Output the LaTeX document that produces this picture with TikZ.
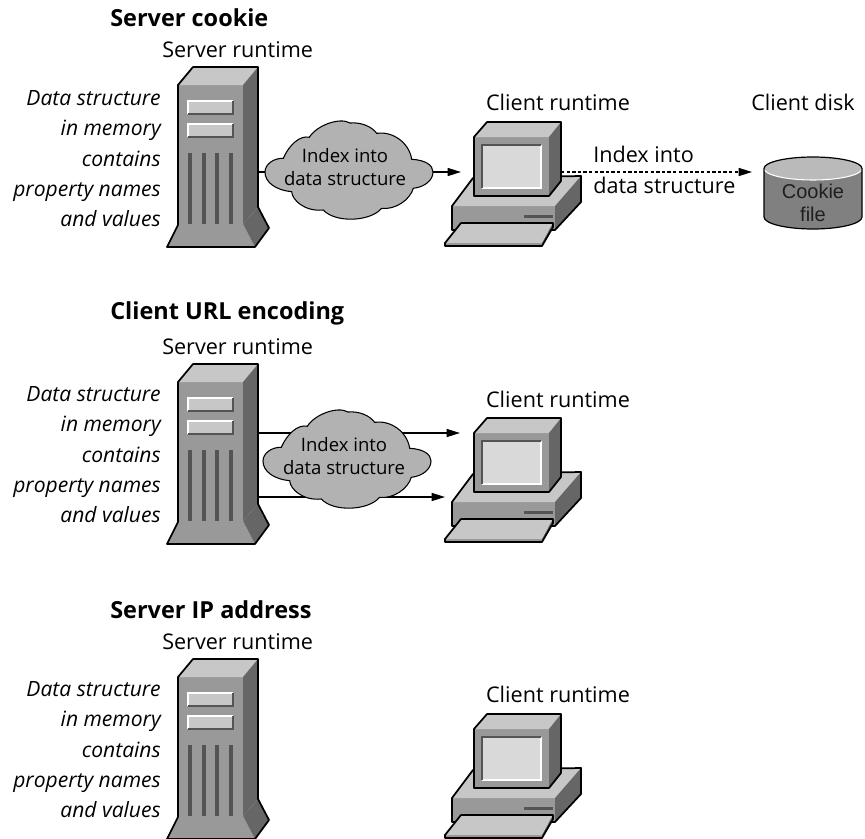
\documentclass[tikz,border=0pt]{standalone}
\usepackage{fontspec}
\setmainfont{Open Sans}
\newfontfamily\arialf{Liberation Sans}
\usetikzlibrary{arrows.meta}
\tikzset{
 ol/.style={draw=black,line width=1.3pt,line join=round},
 lbl/.style={inner sep=0pt,font=\fontsize{16.2pt}{19pt}\selectfont},
 ttl/.style={inner sep=0pt,font=\fontsize{17.6pt}{21pt}\selectfont\bfseries},
 note/.style={inner sep=0pt,align=right,anchor=north east,font=\fontsize{15.8pt}{22.8pt}\selectfont\itshape},
 cloudtxt/.style={inner sep=0pt,align=center,font=\fontsize{13.9pt}{17.3pt}\selectfont},
 link/.style={draw=black,line width=1.1pt,-{Triangle[length=10pt,width=6pt]}},
 plain/.style={draw=black,line width=1.1pt},
 dlink/.style={draw=black,line width=1.1pt,dash pattern=on 2.6pt off 1.6pt,-{Triangle[length=10pt,width=6pt]}},
}
\definecolor{gtop}{gray}{.78}
\definecolor{gfront}{gray}{.6}
\definecolor{gside}{gray}{.4}
\definecolor{gslot}{gray}{.33}
\definecolor{gscreen}{gray}{.85}
\definecolor{gcloud}{gray}{.7}
\definecolor{gdisk}{gray}{.5}
\definecolor{gdisktop}{gray}{.73}
\definecolor{gtext}{gray}{.12}
\newcommand{\serverdraw}[2]{\begin{scope}[shift={(#1,#2)}]
 \fill[gfront] (178,85) -- (243,85) -- (243,224) -- (255,247) -- (167,247) -- (178,225) -- cycle;
 \fill[gtop] (178,85) -- (193,67) -- (258,67) -- (243,85) -- cycle;
 \fill[gside] (243,85) -- (258,67) -- (258,207) -- (243,224) -- cycle;
 \fill[gside] (243,224) -- (258,207) -- (269,228) -- (255,247) -- cycle;
 \foreach \y in {101,124}{
  \fill[gtop] (188,\y) rectangle (233,\y+13);
  \draw[white,line width=.8pt] (188,\y+13) -- (188,\y) -- (233,\y);
  \draw[gslot,line width=.8pt] (188,\y+13) -- (233,\y+13) -- (233,\y);}
 \foreach \x in {188,202,215,229}{\fill[gslot] (\x,153) rectangle (\x+4,224);}
 \draw[ol] (178,85) -- (193,67) -- (258,67) -- (258,207) -- (269,228) -- (255,247) -- (167,247) -- (178,225) -- cycle;
\end{scope}}
\newcommand{\clientdraw}[2]{\begin{scope}[shift={(#1,#2)}]
 % base
 \fill[gfront] (452,206) -- (555,206) -- (555,230) -- (452,230) -- cycle;
 \fill[gtop] (473,178) -- (581,176) -- (555,206) -- (452,206) -- cycle;
 \fill[gside] (581,176) -- (581,202) -- (555,230) -- (555,206) -- cycle;
 \draw[ol] (473,178) -- (581,176) -- (581,202) -- (555,230) -- (452,230) -- (452,206) -- cycle;
 \fill[gslot] (524,215) rectangle (553,218);
 % keyboard
 \fill[gtop] (461,223) -- (553,223) -- (542,243) -- (445,243) -- cycle;
 \fill[gfront] (445,243) -- (542,243) -- (542,246) -- (445,246) -- cycle;
 \fill[gside] (553,223) -- (553,227) -- (542,246) -- (542,243) -- cycle;
 \draw[ol] (461,223) -- (553,223) -- (553,227) -- (542,246) -- (445,246) -- (445,243) -- cycle;
 % monitor
 \fill[gfront] (474,137) rectangle (549,196);
 \fill[gtop] (474,137) -- (487,122) -- (561,122) -- (549,137) -- cycle;
 \fill[gside] (549,137) -- (561,122) -- (561,181) -- (549,196) -- cycle;
 \fill[gscreen] (482,145) rectangle (541,188);
 \draw[white,line width=.8pt] (482,188) -- (541,188) -- (541,145);
 \draw[gslot,line width=.8pt] (482,188) -- (482,145) -- (541,145);
 \draw[ol] (474,137) -- (487,122) -- (561,122) -- (561,181) -- (549,196) -- (474,196) -- cycle;
\end{scope}}
\newcommand{\clouddraw}[2]{\begin{scope}[shift={(#1,#2)}]
 \draw[fill=gcloud,draw=black,line width=.8pt]
  (283.3,158.3) .. controls (289,145) and (300,135) .. (309.3,137.3)
  .. controls (317,125) and (340,117) .. (350,123)
  .. controls (362,122) and (372,127) .. (376.7,133.3)
  .. controls (392,131) and (409,142) .. (411.7,159.3)
  .. controls (425,160) and (433,165) .. (433,172)
  .. controls (433,180) and (425,187) .. (413.3,188.3)
  .. controls (410,200) and (395,210) .. (381.7,208.3)
  .. controls (370,222) and (335,223) .. (323.3,210)
  .. controls (305,212) and (292,200) .. (291.7,191.7)
  .. controls (275,190) and (265,182) .. (265,172)
  .. controls (265,164) and (274,158) .. (283.3,158.3) -- cycle;
\end{scope}}
\begin{document}
\begin{tikzpicture}[x=0.75pt,y=-0.75pt]
\useasboundingbox (0,0) rectangle (865,839);
% ---- section 1
\node[ttl,anchor=west] (t1) at (110,18) {Server cookie};
\node[lbl,anchor=west] (r1) at (162,50) {Server runtime};
\node[note] (n1) at (161,90) {Data structure\\in memory\\contains\\property names\\and values};
\serverdraw{0}{0}
\coordinate (s1out) at (258,172);
\clouddraw{0}{0}
\node[cloudtxt] (cl1) at (345,167) {Index into\\data structure};
\coordinate (cl1r) at (433,172);
\coordinate (cl1l) at (265,172);
\clientdraw{0}{0}
\coordinate (p1in) at (461,172);
\coordinate (p1out) at (561,172);
\node[lbl] (cr1) at (558,102) {Client runtime};
\node[lbl] (cd1) at (803,102) {Client disk};
\draw[plain] (s1out) -- (cl1l);
\draw[link] (cl1r) -- (p1in);
% disk
\coordinate (dk) at (752,172);
\fill[gdisk] (764,168.5) -- (764,217) arc[start angle=180,end angle=0,x radius=49,y radius=12] -- (862,168.5) -- cycle;
\fill[gdisktop] (813,168.5) ellipse [x radius=49,y radius=11.5];
\draw[white,line width=.8pt] (764,168.5) arc[start angle=180,end angle=0,x radius=49,y radius=11.5];
\draw[black,line width=.9pt] (764,168.5) arc[start angle=180,end angle=360,x radius=49,y radius=11.5] -- (862,217) arc[start angle=0,end angle=180,x radius=49,y radius=12] -- cycle;
\node[inner sep=0pt,align=center,text=gtext,font=\fontsize{15pt}{17.3pt}\selectfont\arialf] (ck) at (813,203) {Cookie\\file};
\node[lbl,anchor=west] (ix) at (593,154) {Index into};
\node[lbl,anchor=west] (ix2) at (593,185) {data structure};
\draw[dlink] (p1out) -- (dk);
% ---- section 2
\node[ttl,anchor=west] (t2) at (110,313) {Client URL encoding};
\node[lbl,anchor=west] (r2) at (162,347) {Server runtime};
\node[note] (n2) at (161,386) {Data structure\\in memory\\contains\\property names\\and values};
\serverdraw{0}{297}
\coordinate (s2a) at (257,433);
\coordinate (s2b) at (257,497);
\coordinate (p2a) at (460,433);
\coordinate (p2b) at (445,497);
\draw[link] (s2a) -- (p2a);
\draw[link] (s2b) -- (p2b);
\clouddraw{-2}{289}
\node[cloudtxt] (cl2) at (344,456) {Index into\\data structure};
\clientdraw{0}{296}
\node[lbl] (cr2) at (558,399) {Client runtime};
% ---- section 3
\node[ttl,anchor=west] (t3) at (110,610) {Server IP address};
\node[lbl,anchor=west] (r3) at (162,642) {Server runtime};
\node[note] (n3) at (161,681) {Data structure\\in memory\\contains\\property names\\and values};
\serverdraw{0}{592}
\clientdraw{0}{592}
\node[lbl] (cr3) at (558,694) {Client runtime};
\end{tikzpicture}
\end{document}
